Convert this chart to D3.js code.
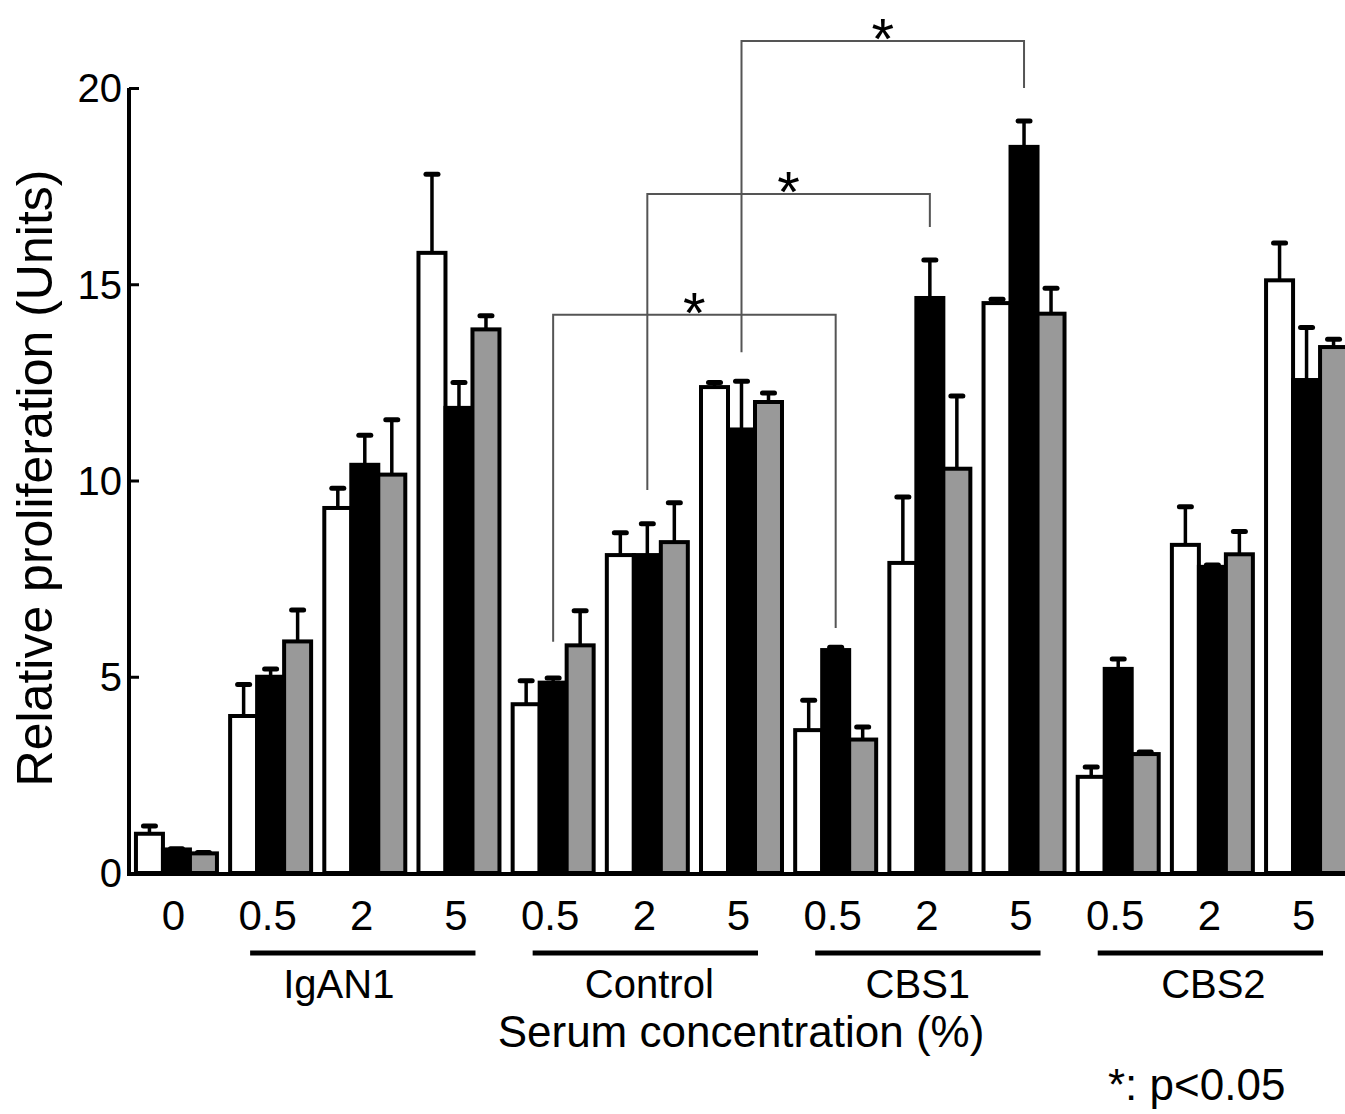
<!DOCTYPE html>
<html>
<head>
<meta charset="utf-8">
<script src="https://cdnjs.cloudflare.com/ajax/libs/d3/7.8.5/d3.min.js"></script>
<style>
  body { margin: 0; background: #fff; }
  text { font-family: "Liberation Sans", Arial, sans-serif; fill: #000; }
</style>
</head>
<body>
<svg width="1345" height="1114"></svg>
<script>
//data
var concLabels = ["0", "0.5", "2", "5", "0.5", "2", "5", "0.5", "2", "5", "0.5", "2", "5"];
var groupNames = ["IgAN1", "Control", "CBS1", "CBS2"];
var groupRanges = [[1, 3], [4, 6], [7, 9], [10, 12]]; // first & last cluster of each group
var seriesNames = ["white", "black", "gray"];
var seriesColors = ["#ffffff", "#000000", "#999999"];

var whiteMean = [1.0, 4.0, 9.3, 15.8, 4.3, 8.1, 12.38, 3.64, 7.9, 14.52, 2.45, 8.36, 15.1];
var whiteErr  = [0.2, 0.8, 0.5, 2.0, 0.6, 0.57, 0.12, 0.76, 1.68, 0.1, 0.25, 0.97, 0.95];
var blackMean = [0.6, 5.0, 10.4, 11.85, 4.85, 8.1, 11.3, 5.68, 14.65, 18.5, 5.2, 7.8, 12.56];
var blackErr  = [0.02, 0.2, 0.75, 0.65, 0.12, 0.8, 1.23, 0.07, 0.97, 0.66, 0.25, 0.05, 1.34];
var grayMean  = [0.5, 5.9, 10.15, 13.85, 5.8, 8.43, 12.0, 3.4, 10.3, 14.25, 3.03, 8.12, 13.4];
var grayErr   = [0.02, 0.8, 1.4, 0.35, 0.88, 1.0, 0.23, 0.32, 1.85, 0.65, 0.05, 0.58, 0.2];

var yTicks = [0, 5, 10, 15, 20];

//significance brackets: cluster indexes, bar level and the two leg ends (in units)
var brackets = [
  { from: 4, to: 7, level: 14.22, leftEnd: 5.89, rightEnd: 6.24 },
  { from: 5, to: 8, level: 17.3, leftEnd: 9.76, rightEnd: 16.46 },
  { from: 6, to: 9, level: 21.2, leftEnd: 13.27, rightEnd: 20.0 }
];

var svg = d3.select("svg");

//scales
var x = d3.scaleBand()
    .domain(d3.range(concLabels.length))
    .range([127, 1356])
    .paddingInner(0.14)
    .paddingOuter(0.095);

var xSub = d3.scaleBand()
    .domain(seriesNames)
    .range([0, x.bandwidth()]);

var y = d3.scaleLinear()
    .domain([0, 20])
    .range([873, 88]);

//build rows for bars
var means = [whiteMean, blackMean, grayMean];
var errs = [whiteErr, blackErr, grayErr];
var rows = [];
concLabels.forEach(function(c, i) {
  seriesNames.forEach(function(s, j) {
    rows.push({ idx: i, series: s, color: seriesColors[j], mean: means[j][i], err: errs[j][i] });
  });
});

function cx(d) { return x(d.idx) + xSub(d.series) + xSub.bandwidth() / 2; }

//error bars (drawn behind the bars)
var eb = svg.append("g");
eb.selectAll("line.stem")
  .data(rows)
  .enter().append("line")
    .attr("class", "stem")
    .attr("x1", cx)
    .attr("x2", cx)
    .attr("y1", function(d) { return y(d.mean); })
    .attr("y2", function(d) { return y(d.mean + d.err); })
    .attr("stroke", "#000")
    .attr("stroke-width", 3.5);
eb.selectAll("line.cap")
  .data(rows)
  .enter().append("line")
    .attr("class", "cap")
    .attr("x1", function(d) { return cx(d) - 6; })
    .attr("x2", function(d) { return cx(d) + 6; })
    .attr("y1", function(d) { return y(d.mean + d.err); })
    .attr("y2", function(d) { return y(d.mean + d.err); })
    .attr("stroke", "#000")
    .attr("stroke-width", 5)
    .attr("stroke-linecap", "round");

//bars
svg.append("g").selectAll("rect")
  .data(rows)
  .enter().append("rect")
    .attr("x", function(d) { return x(d.idx) + xSub(d.series); })
    .attr("y", function(d) { return y(d.mean); })
    .attr("width", xSub.bandwidth())
    .attr("height", function(d) { return y(0) - y(d.mean); })
    .attr("fill", function(d) { return d.color; })
    .attr("stroke", "#000")
    .attr("stroke-width", 4);

//y axis
var yAxis = svg.append("g")
    .attr("transform", "translate(129,0)")
    .call(d3.axisRight(y).tickValues(yTicks).tickSize(10).tickFormat(""));
yAxis.select(".domain").attr("stroke-width", 4).attr("d", "M0," + y(20) + "V" + y(0));
yAxis.selectAll(".tick line").attr("stroke-width", 3);

svg.append("g").selectAll("text")
  .data(yTicks)
  .enter().append("text")
    .attr("x", 122)
    .attr("y", function(d) { return y(d); })
    .attr("dy", "0.36em")
    .attr("text-anchor", "end")
    .style("font-size", "40px")
    .text(function(d) { return d; });

//x axis line
svg.append("line")
    .attr("x1", 127).attr("x2", 1345)
    .attr("y1", y(0) + 1).attr("y2", y(0) + 1)
    .attr("stroke", "#000")
    .attr("stroke-width", 4);

//concentration labels
svg.append("g").selectAll("text")
  .data(concLabels)
  .enter().append("text")
    .attr("x", function(d, i) { return x(i) + x.bandwidth() / 2 - 3; })
    .attr("y", 930)
    .attr("text-anchor", "middle")
    .style("font-size", "42px")
    .text(function(d) { return d; });

//group underlines + names (names sit a little off-centre in the original)
var nameShift = [-24, 4, -10, 3];
var groups = svg.append("g").selectAll("g")
  .data(groupNames)
  .enter().append("g");
groups.append("line")
    .attr("x1", function(d, i) { return x(groupRanges[i][0]) + 20; })
    .attr("x2", function(d, i) { return x(groupRanges[i][1]) + x.bandwidth() - 24; })
    .attr("y1", 953).attr("y2", 953)
    .attr("stroke", "#000")
    .attr("stroke-width", 5);
groups.append("text")
    .attr("x", function(d, i) {
      var mid = (x(groupRanges[i][0]) + 20 + x(groupRanges[i][1]) + x.bandwidth() - 24) / 2;
      return mid + nameShift[i];
    })
    .attr("y", 998)
    .attr("text-anchor", "middle")
    .style("font-size", "40px")
    .text(function(d) { return d; });

//axis titles
svg.append("text")
    .attr("x", 741).attr("y", 1047)
    .attr("text-anchor", "middle")
    .style("font-size", "44px")
    .text("Serum concentration (%)");

svg.append("text")
    .attr("transform", "translate(52,478) rotate(-90)")
    .attr("text-anchor", "middle")
    .style("font-size", "50px")
    .text("Relative proliferation (Units)");

svg.append("text")
    .attr("x", 1108).attr("y", 1100)
    .style("font-size", "44px")
    .text("*: p<0.05");

//significance brackets
var br = svg.append("g").selectAll("g")
  .data(brackets)
  .enter().append("g");
br.append("path")
    .attr("d", function(d) {
      var x1 = x(d.from) + x.bandwidth() / 2,
          x2 = x(d.to) + x.bandwidth() / 2;
      return "M" + x1 + "," + y(d.leftEnd) + "V" + y(d.level) + "H" + x2 + "V" + y(d.rightEnd);
    })
    .attr("fill", "none")
    .attr("stroke", "#555")
    .attr("stroke-width", 2);
br.append("text")
    .attr("x", function(d) { return (x(d.from) + x(d.to) + x.bandwidth()) / 2; })
    .attr("y", function(d) { return y(d.level) - 15 + 0.57 * 58; })
    .attr("text-anchor", "middle")
    .style("font-size", "58px")
    .text("*");
</script>
</body>
</html>
